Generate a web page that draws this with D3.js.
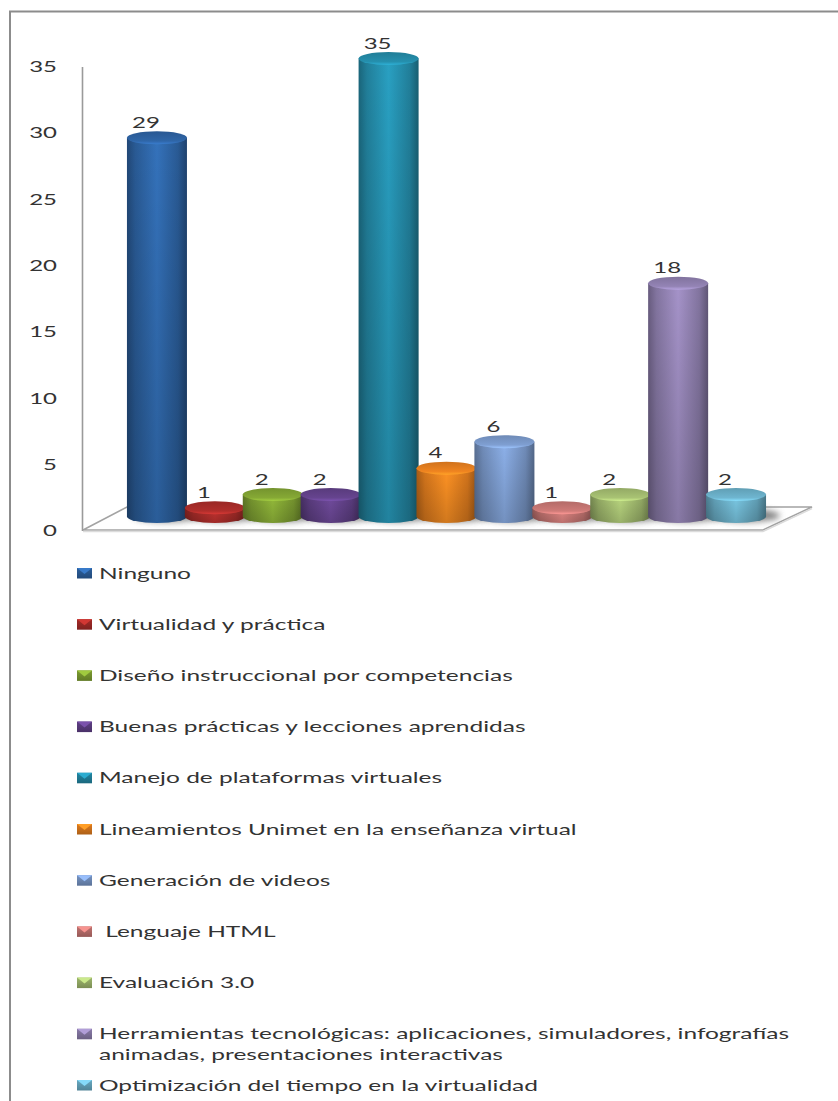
<!DOCTYPE html>
<html>
<head>
<meta charset="utf-8">
<script src="https://cdn.jsdelivr.net/npm/d3@7"></script>
<style>
  html, body { margin: 0; padding: 0; background: #fff; }
  svg { display: block; }
  text { font-family: Lato, "Noto Sans", sans-serif; fill: #333; }
</style>
</head>
<body>
<div id="chart"></div>
<script>
const categories = ["Ninguno", "Virtualidad y práctica", "Diseño instruccional por competencias",
  "Buenas prácticas y lecciones aprendidas", "Manejo de plataformas virtuales",
  "Lineamientos Unimet en la enseñanza virtual", "Generación de videos", "\u00a0Lenguaje HTML",
  "Evaluación 3.0",
  "Herramientas tecnológicas: aplicaciones, simuladores, infografías|animadas, presentaciones interactivas",
  "Optimización del tiempo en la virtualidad"];
const values = [29, 1, 2, 2, 35, 4, 6, 1, 2, 18, 2];
const colors = ["#2f66a8", "#b02e2b", "#86a935", "#66448f", "#2590ae", "#ef8420",
  "#7f9fd2", "#cf7b78", "#a9c374", "#9484b5", "#6fb6d0"];
const ticks = [0, 5, 10, 15, 20, 25, 30, 35];

const width = 838, height = 1101;
const svg = d3.select("#chart").append("svg").attr("width", width).attr("height", height);
const defs = svg.append("defs");

defs.append("filter").attr("id", "blur").attr("x", "-30%").attr("y", "-60%").attr("width", "160%").attr("height", "220%")
  .append("feGaussianBlur").attr("stdDeviation", 3);

colors.forEach((c, i) => {
  const body = defs.append("linearGradient").attr("id", "body" + i);
  [[0, d3.color(c).darker(1)], [.14, d3.color(c).darker(.35)], [.5, d3.color(c).brighter(.3)],
   [.85, d3.color(c).darker(.35)], [1, d3.color(c).darker(1.2)]].forEach(s =>
    body.append("stop").attr("offset", s[0]).attr("stop-color", s[1]));
  const cap = defs.append("linearGradient").attr("id", "cap" + i).attr("x1", 0).attr("x2", 0).attr("y1", 0).attr("y2", 1);
  [[0, d3.color(c).darker(.4)], [.75, c], [1, d3.color(c).brighter(.6)]].forEach(s =>
    cap.append("stop").attr("offset", s[0]).attr("stop-color", s[1]));
  const sw = defs.append("linearGradient").attr("id", "sw" + i).attr("x1", 0).attr("x2", 0).attr("y1", 0).attr("y2", 1);
  [[0, d3.color(c).darker(.2)], [1, d3.color(c).darker(.9)]].forEach(s =>
    sw.append("stop").attr("offset", s[0]).attr("stop-color", s[1]));
});
const fade = defs.append("linearGradient").attr("id", "fade").attr("x1", 0).attr("x2", 0).attr("y1", 0).attr("y2", 1);
fade.append("stop").attr("offset", 0).attr("stop-color", "#000").attr("stop-opacity", 0);
fade.append("stop").attr("offset", 1).attr("stop-color", "#000").attr("stop-opacity", .18);

// frame (open on the right and at the bottom, the picture is cropped there)
svg.append("path").attr("d", `M10,${height}V11.5H${width}`)
  .attr("fill", "none").attr("stroke", "#8c8c8c").attr("stroke-width", 2);

// scales
const yAxisScale = d3.scaleLinear().domain([0, 35]).range([530.5, 66.5]);
const yBar = d3.scaleLinear().domain([0, 35]).range([521, 58.5]);
const x = d3.scaleBand().domain(categories).range([128, 765]);
const barW = 60, ry = 6.5, baseY = 516.5;
const barX = (i) => x(categories[i]) + x.bandwidth() / 2;

// floor
svg.append("path").attr("d", "M83,530L127,507H812L763,530Z")
  .attr("fill", "#fff").attr("stroke", "#a3a3a3").attr("stroke-width", 1.6);
svg.append("path").attr("d", "M83,531.5H763L812,508.5").attr("fill", "none").attr("stroke", "#dcdcdc").attr("stroke-width", 1.5);

// y axis
const axis = svg.append("g").attr("transform", "translate(82,0)")
  .call(d3.axisLeft(yAxisScale).tickValues(ticks).tickSize(0).tickSizeOuter(0).tickPadding(25));
axis.select(".domain").attr("stroke", "#9a9a9a").attr("stroke-width", 1.6);
axis.selectAll("text")
  .attr("x", 0)
  .attr("transform", "translate(-25,0) scale(1.5,1)")
  .style("font-size", "16px");

// shadows go first so they never darken a neighbouring bar
svg.append("g").selectAll("ellipse").data(values).join("ellipse")
  .attr("cx", (d, i) => barX(i) + 10).attr("cy", baseY - 1).attr("rx", barW / 2 + 4).attr("ry", ry)
  .attr("fill", "#666").attr("opacity", .8).attr("filter", "url(#blur)");

// bars
const bars = svg.append("g").selectAll("g").data(values).join("g")
  .attr("transform", (d, i) => `translate(${barX(i)},0)`);

const cyl = (top) => `M${-barW / 2},${top}V${baseY}A${barW / 2},${ry} 0 0 0 ${barW / 2},${baseY}V${top}Z`;
bars.append("path").attr("d", d => cyl(yBar(d))).attr("fill", (d, i) => `url(#body${i})`);
bars.append("path").attr("d", d => cyl(yBar(d))).attr("fill", "url(#fade)");
bars.append("ellipse")
  .attr("cy", d => yBar(d)).attr("rx", barW / 2).attr("ry", ry)
  .attr("fill", (d, i) => `url(#cap${i})`);

bars.append("text")
  .attr("transform", d => `translate(-11,${yBar(d) - ry - 3.5}) scale(1.5,1)`)
  .attr("text-anchor", "middle")
  .style("font-size", "16px")
  .text(d => d);

// legend
const legendY = d3.scalePoint().domain(categories).range([573, 1085]);
const rows = svg.append("g").selectAll("g").data(categories).join("g")
  .attr("transform", d => `translate(77,${legendY(d)})`);
rows.append("rect").attr("y", -5).attr("width", 15).attr("height", 10.5)
  .attr("fill", (d, i) => `url(#sw${i})`);
rows.append("path").attr("d", "M0,-5L7.5,1L15,-5Z").attr("fill", (d, i) => d3.color(colors[i]).brighter(.5));

rows.each(function(d) {
  const lines = d.split("|");
  lines.forEach((line, k) => {
    d3.select(this).append("text")
      .attr("transform", `translate(22,${k * 20.5 + 5.5}) scale(1.58,1)`)
      .style("font-size", "15.5px")
      .text(line);
  });
});
</script>
</body>
</html>
